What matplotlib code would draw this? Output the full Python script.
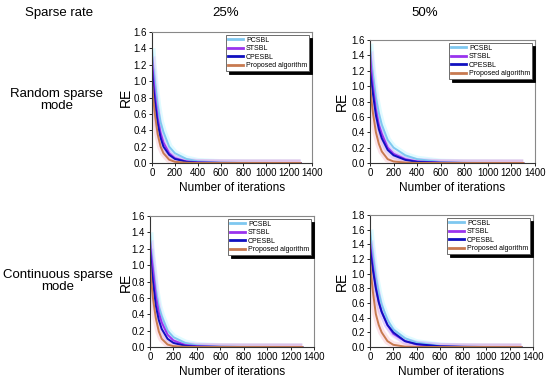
import matplotlib
matplotlib.use("Agg")
import matplotlib.pyplot as plt

plt.rcParams['font.family'] = ['Liberation Sans', 'DejaVu Sans']

# iterations sampled from the curves
iters = [0, 10, 25, 50, 75, 100, 150, 200, 300, 400, 600, 800, 1000, 1300]

methods = ["PCSBL", "STSBL", "CPESBL", "Proposed algorithm"]
colors = ["#7ec8f0", "#9933ee", "#1010c0", "#c87a50"]
halo = ["#a8f4ff", "#f0a8f8", "#b0b0ff", "#f8b0c0"]

# Random sparse mode, 25%
rand25 = {
    "PCSBL":  [1.40, 1.20, 1.00, 0.70, 0.50, 0.38, 0.20, 0.12, 0.05, 0.02, 0.005, 0.002, 0.001, 0.0],
    "STSBL":  [1.30, 1.08, 0.85, 0.55, 0.37, 0.25, 0.12, 0.06, 0.02, 0.008, 0.002, 0.0, 0.0, 0.0],
    "CPESBL": [1.15, 0.95, 0.75, 0.48, 0.31, 0.20, 0.10, 0.05, 0.015, 0.005, 0.001, 0.0, 0.0, 0.0],
    "Proposed algorithm": [1.00, 0.80, 0.60, 0.35, 0.20, 0.12, 0.04, 0.015, 0.003, 0.0, 0.0, 0.0, 0.0, 0.0],
}
# Random sparse mode, 50%
rand50 = {
    "PCSBL":  [1.55, 1.35, 1.15, 0.85, 0.65, 0.50, 0.30, 0.20, 0.10, 0.05, 0.012, 0.003, 0.001, 0.0],
    "STSBL":  [1.45, 1.22, 1.00, 0.70, 0.50, 0.38, 0.20, 0.12, 0.05, 0.02, 0.005, 0.001, 0.0, 0.0],
    "CPESBL": [1.20, 1.08, 0.90, 0.62, 0.44, 0.32, 0.17, 0.10, 0.04, 0.015, 0.003, 0.0, 0.0, 0.0],
    "Proposed algorithm": [1.05, 0.85, 0.65, 0.40, 0.25, 0.15, 0.05, 0.02, 0.005, 0.001, 0.0, 0.0, 0.0, 0.0],
}
# Continuous sparse mode, 25%
cont25 = {
    "PCSBL":  [1.40, 1.20, 1.00, 0.70, 0.50, 0.38, 0.20, 0.12, 0.05, 0.02, 0.005, 0.002, 0.001, 0.0],
    "STSBL":  [1.30, 1.13, 0.95, 0.62, 0.42, 0.30, 0.15, 0.08, 0.025, 0.01, 0.002, 0.0, 0.0, 0.0],
    "CPESBL": [1.20, 1.00, 0.80, 0.50, 0.33, 0.22, 0.10, 0.05, 0.015, 0.005, 0.001, 0.0, 0.0, 0.0],
    "Proposed algorithm": [1.05, 0.82, 0.60, 0.35, 0.19, 0.10, 0.03, 0.01, 0.002, 0.0, 0.0, 0.0, 0.0, 0.0],
}
# Continuous sparse mode, 50%
cont50 = {
    "PCSBL":  [1.60, 1.45, 1.25, 0.95, 0.74, 0.58, 0.37, 0.24, 0.12, 0.06, 0.015, 0.004, 0.001, 0.0],
    "STSBL":  [1.45, 1.30, 1.10, 0.82, 0.62, 0.48, 0.30, 0.18, 0.08, 0.035, 0.008, 0.002, 0.0, 0.0],
    "CPESBL": [1.35, 1.22, 1.05, 0.80, 0.61, 0.48, 0.30, 0.20, 0.08, 0.04, 0.01, 0.002, 0.0, 0.0],
    "Proposed algorithm": [1.20, 0.98, 0.75, 0.45, 0.30, 0.20, 0.08, 0.03, 0.005, 0.001, 0.0, 0.0, 0.0, 0.0],
}

panels = [
    (rand25, [152, 32, 312, 163], 1.6, False),
    (rand50, [370, 40, 535, 163], 1.6, True),
    (cont25, [150, 216, 314, 347], 1.6, False),
    (cont50, [370, 215, 533, 347], 1.8, True),
]

W, H = 550, 382
fig = plt.figure(figsize=(5.5, 3.82), dpi=100)

for data, (x0, y0, x1, y1), ymax, show_re in panels:
    ax = fig.add_axes([x0 / W, 1 - y1 / H, (x1 - x0) / W, (y1 - y0) / H])
    for m, c, h in zip(methods, colors, halo):
        ax.plot(iters, data[m], color=h, lw=5, alpha=0.35, solid_capstyle="butt")
    handles = []
    for m, c in zip(methods, colors):
        ln, = ax.plot(iters, data[m], color=c, lw=1.4, label=m)
        handles.append(ln)
    ax.set_xlim(0, 1400)
    ax.set_ylim(0, ymax)
    ax.set_xticks(range(0, 1401, 200))
    ticks = [v / 10 for v in range(0, int(round(ymax * 10)) + 1, 2)]
    ax.set_yticks(ticks)
    ax.set_yticklabels(["%.1f" % t for t in ticks])
    ax.tick_params(labelsize=7, length=2, width=0.6, pad=1.5)
    for s in ["left", "bottom"]:
        ax.spines[s].set_color("#333333")
        ax.spines[s].set_linewidth(0.8)
    for s in ["top", "right"]:
        ax.spines[s].set_color("#888888")
        ax.spines[s].set_linewidth(0.8)
    ax.set_xlabel("Number of iterations", fontsize=8.5, labelpad=3)
    if show_re:
        ax.set_ylabel("RE", fontsize=10, labelpad=2)
    leg = ax.legend(handles=handles, loc="upper right", fontsize=5,
                    frameon=True, fancybox=False, framealpha=1,
                    edgecolor="#555555", handlelength=2.2, handletextpad=0.4,
                    labelspacing=0.2, borderpad=0.3, borderaxespad=0.4,
                    shadow={"color": "black", "alpha": 1})
    leg.get_frame().set_linewidth(0.6)
    for ln in leg.get_lines():
        ln.set_linewidth(2)

fig.text(25 / W, 1 - 13 / H, "Sparse rate", fontsize=9.5, ha="left", va="center")
fig.text(226 / W, 1 - 13 / H, "25%", fontsize=9.5, ha="center", va="center")
fig.text(425 / W, 1 - 13 / H, "50%", fontsize=9.5, ha="center", va="center")
fig.text(57 / W, 1 - 100 / H, "Random sparse\nmode", fontsize=9.5,
         ha="center", va="center", linespacing=1.1)
fig.text(58 / W, 1 - 281 / H, "Continuous sparse\nmode", fontsize=9.5,
         ha="center", va="center", linespacing=1.1)
fig.text(126 / W, 1 - 97 / H, "RE", fontsize=10, rotation=90, ha="center", va="center")
fig.text(126 / W, 1 - 282 / H, "RE", fontsize=10, rotation=90, ha="center", va="center")

fig.savefig("out.png", dpi=100)
